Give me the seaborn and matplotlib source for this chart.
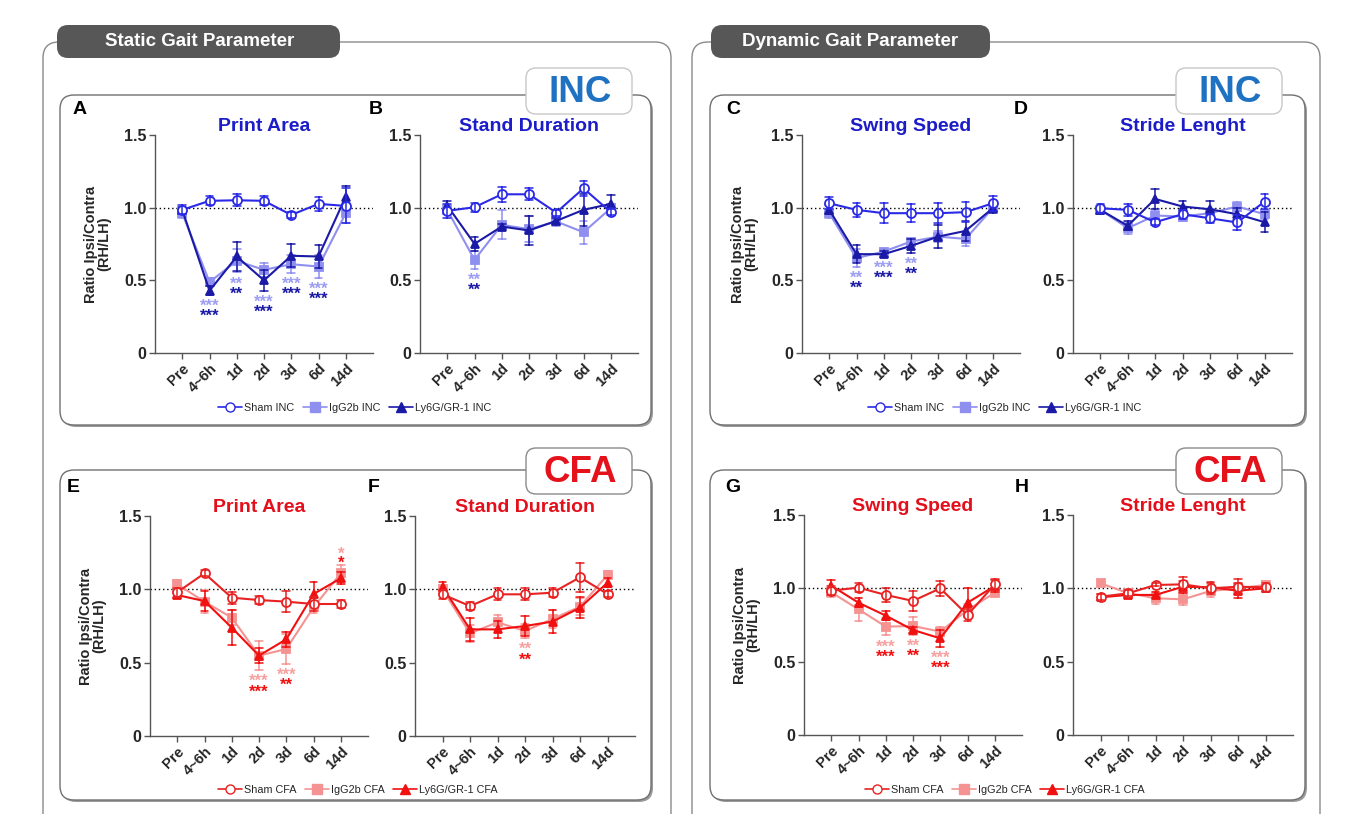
import numpy as np
import pandas as pd
import matplotlib
matplotlib.use('Agg')
import matplotlib.pyplot as plt
import seaborn as sns
from matplotlib.patches import FancyBboxPatch
from matplotlib.lines import Line2D

sns.set_theme(style='white')
plt.rcParams['font.family'] = ['Liberation Sans', 'DejaVu Sans']

# ---------------- data ----------------
timepoints = ['Pre', '4~6h', '1d', '2d', '3d', '6d', '14d']
groups_inc = ['Sham INC', 'IgG2b INC', 'Ly6G/GR-1 INC']
groups_cfa = ['Sham CFA', 'IgG2b CFA', 'Ly6G/GR-1 CFA']

# A Print Area (INC)
A_sham = [0.985, 1.047, 1.051, 1.047, 0.950, 1.026, 1.012]
A_sham_err = [0.03, 0.03, 0.04, 0.03, 0.02, 0.05, 0.12]
A_igg = [0.962, 0.488, 0.634, 0.572, 0.611, 0.595, 0.962]
A_igg_err = [0.03, 0.03, 0.08, 0.05, 0.06, 0.08, 0.07]
A_ly = [0.985, 0.428, 0.664, 0.500, 0.669, 0.664, 1.076]
A_ly_err = [0.02, 0.03, 0.10, 0.07, 0.08, 0.08, 0.07]
A_sig_igg = ['', '***', '**', '***', '***', '***', '']
A_sig_ly = ['', '***', '**', '***', '***', '***', '']

# B Stand Duration (INC)
B_sham = [0.978, 1.003, 1.092, 1.092, 0.966, 1.133, 0.969]
B_sham_err = [0.05, 0.03, 0.05, 0.04, 0.02, 0.05, 0.02]
B_igg = [0.985, 0.641, 0.882, 0.852, 0.905, 0.831, 0.996]
B_igg_err = [0.03, 0.06, 0.10, 0.09, 0.03, 0.08, 0.03]
B_ly = [1.014, 0.751, 0.870, 0.843, 0.909, 0.985, 1.026]
B_ly_err = [0.03, 0.05, 0.02, 0.10, 0.02, 0.11, 0.06]
B_sig_igg = ['', '**', '', '', '', '', '']
B_sig_ly = ['', '**', '', '', '', '', '']

# C Swing Speed (INC)
C_sham = [1.030, 0.985, 0.962, 0.962, 0.962, 0.969, 1.030]
C_sham_err = [0.04, 0.05, 0.07, 0.06, 0.07, 0.07, 0.05]
C_igg = [0.962, 0.653, 0.698, 0.767, 0.801, 0.785, 0.996]
C_igg_err = [0.03, 0.06, 0.02, 0.02, 0.04, 0.05, 0.02]
C_ly = [0.985, 0.680, 0.680, 0.737, 0.801, 0.840, 0.996]
C_ly_err = [0.03, 0.06, 0.02, 0.05, 0.08, 0.07, 0.03]
C_sig_igg = ['', '**', '***', '**', '', '', '']
C_sig_ly = ['', '**', '***', '**', '', '', '']

# D Stride Lenght (INC)
D_sham = [0.996, 0.985, 0.900, 0.955, 0.927, 0.898, 1.042]
D_sham_err = [0.03, 0.04, 0.02, 0.03, 0.03, 0.05, 0.05]
D_igg = [0.985, 0.859, 0.946, 0.939, 0.962, 1.008, 0.955]
D_igg_err = [0.03, 0.04, 0.03, 0.03, 0.03, 0.03, 0.03]
D_ly = [0.985, 0.875, 1.060, 1.008, 0.989, 0.955, 0.900]
D_ly_err = [0.02, 0.03, 0.07, 0.04, 0.06, 0.04, 0.07]
D_sig_igg = [''] * 7
D_sig_ly = [''] * 7

# E Print Area (CFA)
E_sham = [0.980, 1.109, 0.943, 0.927, 0.916, 0.900, 0.900]
E_sham_err = [0.03, 0.02, 0.04, 0.03, 0.07, 0.05, 0.03]
E_igg = [1.034, 0.916, 0.807, 0.548, 0.593, 0.877, 1.109]
E_igg_err = [0.03, 0.08, 0.05, 0.10, 0.10, 0.04, 0.06]
E_ly = [0.961, 0.920, 0.739, 0.548, 0.659, 0.968, 1.075]
E_ly_err = [0.02, 0.07, 0.12, 0.05, 0.05, 0.08, 0.04]
E_sig_igg = ['', '', '', '***', '***', '', '*']
E_sig_ly = ['', '', '', '***', '**', '', '*']

# F Stand Duration (CFA)
F_sham = [0.966, 0.886, 0.966, 0.966, 0.977, 1.082, 0.968]
F_sham_err = [0.03, 0.03, 0.04, 0.04, 0.03, 0.10, 0.02]
F_igg = [1.000, 0.700, 0.775, 0.716, 0.798, 0.882, 1.098]
F_igg_err = [0.03, 0.06, 0.05, 0.05, 0.06, 0.06, 0.03]
F_ly = [1.018, 0.727, 0.727, 0.750, 0.780, 0.875, 1.045]
F_ly_err = [0.03, 0.08, 0.06, 0.07, 0.08, 0.07, 0.03]
F_sig_igg = ['', '', '', '**', '', '', '']
F_sig_ly = ['', '', '', '**', '', '', '']

# G Swing Speed (CFA)
G_sham = [0.984, 1.005, 0.955, 0.914, 1.000, 0.818, 1.027]
G_sham_err = [0.03, 0.03, 0.05, 0.07, 0.05, 0.04, 0.04]
G_igg = [0.973, 0.857, 0.739, 0.743, 0.705, 0.852, 0.970]
G_igg_err = [0.03, 0.08, 0.06, 0.06, 0.03, 0.04, 0.02]
G_ly = [1.018, 0.902, 0.814, 0.716, 0.659, 0.902, 1.016]
G_ly_err = [0.04, 0.03, 0.03, 0.02, 0.06, 0.10, 0.04]
G_sig_igg = ['', '', '***', '**', '***', '', '']
G_sig_ly = ['', '', '***', '**', '***', '', '']

# H Stride Lenght (CFA)
H_sham = [0.943, 0.966, 1.023, 1.027, 1.000, 1.011, 1.007]
H_sham_err = [0.02, 0.02, 0.01, 0.05, 0.04, 0.05, 0.03]
H_igg = [1.034, 0.968, 0.932, 0.925, 0.982, 1.000, 1.023]
H_igg_err = [0.02, 0.03, 0.04, 0.04, 0.04, 0.03, 0.03]
H_ly = [0.939, 0.955, 0.955, 1.011, 1.007, 0.984, 1.000]
H_ly_err = [0.02, 0.02, 0.02, 0.04, 0.03, 0.05, 0.02]
H_sig_igg = [''] * 7
H_sig_ly = [''] * 7

yticks = [0, 0.5, 1.0, 1.5]
ytick_labels = ['0', '0.5', '1.0', '1.5']

# ---------------- styles ----------------
W, H = 1360, 814
fig = plt.figure(figsize=(W / 100, H / 100), dpi=100)

bg = fig.add_axes([0, 0, 1, 1], zorder=0)
bg.set_xlim(0, W)
bg.set_ylim(H, 0)
bg.axis('off')

INC_TITLE = '#1c1cc8'
CFA_TITLE = '#e3101c'
inc_colors = {'sham': '#2a2ae6', 'igg': '#8f8ff0', 'ly': '#1a1aa6'}
cfa_colors = {'sham': '#e82222', 'igg': '#f59393', 'ly': '#f01010'}
star_inc = {'igg': '#9d9df2', 'ly': '#1a1aa6'}
star_cfa = {'igg': '#f7a0a0', 'ly': '#f01010'}


def rbox(x0, y0, x1, y1, r, fc='white', ec='#7a7a7a', lw=1.0, z=1, shadow=False):
    if shadow:
        sh = FancyBboxPatch((x0 + 2, y0 + 2), x1 - x0, y1 - y0,
                            boxstyle=f'round,pad=0,rounding_size={r}',
                            fc='#9a9a9a', ec='none', zorder=z - 0.5)
        bg.add_patch(sh)
    p = FancyBboxPatch((x0, y0), x1 - x0, y1 - y0,
                       boxstyle=f'round,pad=0,rounding_size={r}',
                       fc=fc, ec=ec, lw=lw, zorder=z)
    bg.add_patch(p)


# outer section boxes
rbox(43, 42, 671, 840, 16, ec='#8a8a8a', lw=1.0, z=1)
rbox(692, 42, 1320, 840, 16, ec='#8a8a8a', lw=1.0, z=1)
# header pills
rbox(57, 25, 340, 58, 11, fc='#575757', ec='none', z=3)
rbox(711, 25, 990, 58, 11, fc='#575757', ec='none', z=3)
bg.text(200, 42, 'Static Gait Parameter', color='white', fontsize=13.5,
        fontweight='bold', ha='center', va='center', zorder=4)
bg.text(850, 42, 'Dynamic Gait Parameter', color='white', fontsize=13.5,
        fontweight='bold', ha='center', va='center', zorder=4)

# inner boxes
for (x0, x1) in [(60, 651), (710, 1305)]:
    rbox(x0, 95, x1, 425, 14, ec='#707070', lw=1.0, z=2, shadow=True)
    rbox(x0, 470, x1, 800, 14, ec='#707070', lw=1.0, z=2, shadow=True)

# badges
for bx in [526, 1176]:
    rbox(bx, 68, bx + 106, 114, 10, fc='white', ec='#c8c8c8', lw=1.0, z=5)
    bg.text(bx + 54, 92, 'INC', color='#1f72c2', fontsize=26.5, fontweight='bold',
            ha='center', va='center', zorder=6)
    rbox(bx, 448, bx + 106, 494, 10, fc='white', ec='#8a8a8a', lw=1.0, z=5)
    bg.text(bx + 54, 472, 'CFA', color='#e3121b', fontsize=26.5, fontweight='bold',
            ha='center', va='center', zorder=6)

panels = [
    ('A', 'Print Area', (155, 373, 135, 353), (80, 110),
     (A_sham, A_sham_err, A_igg, A_igg_err, A_ly, A_ly_err), (A_sig_igg, A_sig_ly), 'inc', True, 'below'),
    ('B', 'Stand Duration', (420, 638, 135, 353), (376, 110),
     (B_sham, B_sham_err, B_igg, B_igg_err, B_ly, B_ly_err), (B_sig_igg, B_sig_ly), 'inc', False, 'below'),
    ('C', 'Swing Speed', (802, 1020, 135, 353), (733, 110),
     (C_sham, C_sham_err, C_igg, C_igg_err, C_ly, C_ly_err), (C_sig_igg, C_sig_ly), 'inc', True, 'below'),
    ('D', 'Stride Lenght', (1073, 1292, 135, 353), (1021, 110),
     (D_sham, D_sham_err, D_igg, D_igg_err, D_ly, D_ly_err), (D_sig_igg, D_sig_ly), 'inc', False, 'below'),
    ('E', 'Print Area', (150, 368, 516, 736), (73, 488),
     (E_sham, E_sham_err, E_igg, E_igg_err, E_ly, E_ly_err), (E_sig_igg, E_sig_ly), 'cfa', True, 'auto'),
    ('F', 'Stand Duration', (415, 635, 516, 736), (374, 488),
     (F_sham, F_sham_err, F_igg, F_igg_err, F_ly, F_ly_err), (F_sig_igg, F_sig_ly), 'cfa', False, 'below'),
    ('G', 'Swing Speed', (804, 1022, 515, 735), (733, 488),
     (G_sham, G_sham_err, G_igg, G_igg_err, G_ly, G_ly_err), (G_sig_igg, G_sig_ly), 'cfa', True, 'below'),
    ('H', 'Stride Lenght', (1073, 1293, 515, 735), (1022, 488),
     (H_sham, H_sham_err, H_igg, H_igg_err, H_ly, H_ly_err), (H_sig_igg, H_sig_ly), 'cfa', False, 'below'),
]


def long_frame(means, errs):
    rows = []
    for t, m, e in zip(timepoints, means, errs):
        for v in (m - e, m, m + e):
            rows.append({'time': t, 'value': v})
    return pd.DataFrame(rows)


handles = {}
for letter, title, (x0, x1, yt, yb), (let_x, let_y), data, sigs, cset, ylab, sigdir in panels:
    ax = fig.add_axes([x0 / W, 1 - yb / H, (x1 - x0) / W, (yb - yt) / H], zorder=10)
    ax.set_facecolor('none')
    cols = inc_colors if cset == 'inc' else cfa_colors
    scol = star_inc if cset == 'inc' else star_cfa
    tcol = INC_TITLE if cset == 'inc' else CFA_TITLE
    sham, sham_e, igg, igg_e, lyv, lyv_e = data

    ax.axhline(1.0, color='black', ls=(0, (1, 2)), lw=1.0, zorder=1)

    specs = [
        ('igg', igg, igg_e, 's', cols['igg'], cols['igg'], 6, 2),
        ('ly', lyv, lyv_e, '^', cols['ly'], cols['ly'], 6, 3),
        ('sham', sham, sham_e, 'o', cols['sham'], 'white', 6.5, 4),
    ]
    for key, m, e, mk, c, mfc, ms, z in specs:
        df = long_frame(m, e)
        sns.pointplot(data=df, x='time', y='value', order=timepoints,
                      estimator='mean', errorbar=('pi', 100), capsize=0.28,
                      color=c, marker=mk, markersize=ms, markerfacecolor=mfc,
                      markeredgecolor=c, markeredgewidth=1.3, linewidth=1.5,
                      err_kws={'linewidth': 1.1, 'zorder': z}, zorder=z, ax=ax)

    # significance stars
    for i in range(len(timepoints)):
        s_igg, s_ly = sigs[0][i], sigs[1][i]
        if not s_igg and not s_ly:
            continue
        lower = min(igg[i] - igg_e[i], lyv[i] - lyv_e[i])
        upper = max(igg[i] + igg_e[i], lyv[i] + lyv_e[i])
        if sigdir == 'auto' and i == len(timepoints) - 1:
            yd = upper + 0.012
            yl = yd + 0.057
        else:
            yl = lower - 0.078
            yd = yl - 0.069
        ax.text(i, yl, s_igg, color=scol['igg'], fontsize=12, fontweight='bold',
                ha='center', va='center', zorder=6)
        ax.text(i, yd, s_ly, color=scol['ly'], fontsize=12, fontweight='bold',
                ha='center', va='center', zorder=6)

    ax.set_xlim(-1, 7)
    ax.set_ylim(0, 1.5)
    ax.set_yticks(yticks)
    ax.set_yticklabels(ytick_labels, fontsize=11.5, fontweight='bold')
    ax.set_xticks(range(len(timepoints)))
    ax.set_xticklabels(timepoints, rotation=45, ha='right', rotation_mode='anchor',
                       fontsize=10.5, fontweight='bold')
    ax.set_xlabel('')
    for sp in ['top', 'right']:
        ax.spines[sp].set_visible(False)
    for sp in ['left', 'bottom']:
        ax.spines[sp].set_color('#555555')
        ax.spines[sp].set_linewidth(1.0)
    ax.tick_params(axis='both', which='both', direction='out', length=4, width=1.0,
                   color='#555555', pad=2, left=True, bottom=True)
    if ylab:
        ax.set_ylabel('Ratio Ipsi/Contra\n(RH/LH)', fontsize=10.5, fontweight='bold',
                      labelpad=9, linespacing=1.0)
    else:
        ax.set_ylabel('')
    ax.set_title(title, color=tcol, fontsize=14, fontweight='bold', pad=2)
    bg.text(let_x, let_y, letter, fontsize=14, fontweight='bold', color='black',
            ha='center', va='center', zorder=6)

    if cset not in handles:
        handles[cset] = [
            Line2D([], [], color=cols['sham'], marker='o', markerfacecolor='white',
                   markeredgecolor=cols['sham'], markersize=6.5, lw=1.2),
            Line2D([], [], color=cols['igg'], marker='s', markerfacecolor=cols['igg'],
                   markersize=6.5, lw=1.2),
            Line2D([], [], color=cols['ly'], marker='^', markerfacecolor=cols['ly'],
                   markersize=6.5, lw=1.2),
        ]

# legends
for cx, cy, cset in [(355, 408, 'inc'), (1005, 408, 'inc'), (358, 790, 'cfa'), (1005, 790, 'cfa')]:
    names = groups_inc if cset == 'inc' else groups_cfa
    leg = fig.legend(handles[cset], names, loc='center', bbox_to_anchor=(cx / W, 1 - cy / H),
                     ncol=3, frameon=False, fontsize=7.8, handlelength=2.2,
                     columnspacing=0.8, handletextpad=0.2)
    leg.set_zorder(20)

fig.savefig('out.png', dpi=100)
